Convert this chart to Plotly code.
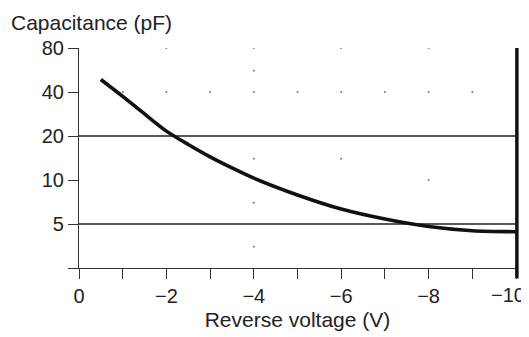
import plotly.graph_objects as go

# Data
voltage = [-0.5, -1.0, -1.5, -2.0, -2.5, -3.0, -3.5, -4.0, -5.0, -6.0, -7.0, -8.0, -9.0, -10.0]
capacitance = [48.7, 37.3, 28.3, 21.6, 17.5, 14.4, 12.1, 10.3, 7.9, 6.33, 5.41, 4.81, 4.5, 4.43]

ref_levels = [5, 20]

x_tickvals = [0, -1, -2, -3, -4, -5, -6, -7, -8, -9, -10]
x_ticktext = ["0", "", "\u22122", "", "\u22124", "", "\u22126", "", "\u22128", "", ""]
last_tick_label = "\u221210"
y_tickvals = [2.5, 5, 10, 20, 40, 80]
y_ticktext = ["", "5", "10", "20", "40", "80"]

# faint grid dots visible in the scan
dot_v = [-2, -4, -6, -8, -1, -2, -3, -4, -5, -6, -7, -8, -9, -4, -4, -6, -4, -4, -8]
dot_c = [80, 80, 80, 80, 40, 40, 40, 40, 40, 40, 40, 40, 40, 56, 14, 14, 7, 3.5, 10]

FONT = "Liberation Sans, Arial, sans-serif"
AX = "#333333"
TXT = "#222222"

fig = go.Figure()
fig.add_trace(go.Scatter(x=dot_v, y=dot_c, mode="markers",
                         marker=dict(size=2, color="#777777"), hoverinfo="skip"))
fig.add_trace(go.Scatter(x=voltage, y=capacitance, mode="lines",
                         line=dict(color="#111111", width=3.6, shape="spline", smoothing=0.8)))

for lv in ref_levels:
    fig.add_shape(type="line", xref="paper", x0=0, x1=1, yref="y", y0=lv, y1=lv,
                  line=dict(color="#222222", width=1.3), layer="below")

# heavy end bar at the -10 V limit
fig.add_shape(type="line", xref="paper", x0=1.002, x1=1.002,
              yref="paper", y0=-0.047, y1=1.0,
              line=dict(color="#111111", width=3.5))

fig.add_annotation(text="Capacitance (pF)", xref="paper", yref="paper",
                   x=-0.16, y=1.118, xanchor="left", yanchor="middle",
                   showarrow=False, font=dict(family=FONT, size=21, color=TXT))

# last x tick label, nudged left so it stays inside the page (as in the reference)
fig.add_annotation(text=last_tick_label, xref="paper", yref="paper",
                   x=1.025, y=-0.123, xanchor="right", yanchor="middle",
                   showarrow=False, font=dict(family=FONT, size=20, color=TXT))

# page body has an 8px margin, so the figure is offset by 8px; sizes compensate
fig.update_layout(
    width=521, height=329,
    margin=dict(l=71, r=13, t=40, b=69),
    paper_bgcolor="white", plot_bgcolor="white",
    showlegend=False,
    font=dict(family=FONT, size=20, color=TXT),
)
fig.update_xaxes(range=[0, -10], tickvals=x_tickvals, ticktext=x_ticktext, automargin=False,
                 showgrid=False, zeroline=False, showline=True, linecolor=AX, linewidth=1.2,
                 ticks="outside", ticklen=10, tickcolor=AX, tickwidth=1.2,
                 tickfont=dict(family=FONT, size=20, color=TXT),
                 title=dict(text="Reverse voltage (V)", standoff=6,
                            font=dict(family=FONT, size=21, color=TXT)))
fig.update_yaxes(type="log", range=[0.39794, 1.90309], tickvals=y_tickvals, ticktext=y_ticktext,
                 automargin=False,
                 showgrid=False, zeroline=False, showline=True, linecolor=AX, linewidth=1.2,
                 ticks="outside", ticklen=10, tickcolor=AX, tickwidth=1.2,
                 tickfont=dict(family=FONT, size=20, color=TXT))

fig.write_html("out.html")
